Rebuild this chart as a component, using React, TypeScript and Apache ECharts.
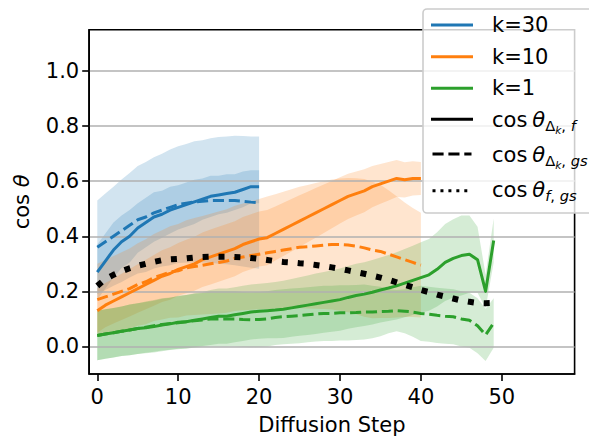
import React, { useEffect, useRef } from 'react';
import * as echarts from 'echarts';

// ---------- data ----------
const xTicks = [0, 10, 20, 30, 40, 50];
const yTicks = [0.0, 0.2, 0.4, 0.6, 0.8, 1.0];

// k = 30 (steps 0..20)
const k30Solid = [0.27, 0.31, 0.35, 0.38, 0.40, 0.43, 0.45, 0.47, 0.48, 0.495, 0.505, 0.515, 0.525, 0.535, 0.545, 0.55, 0.555, 0.56, 0.57, 0.58, 0.58];
const k30Dash = [0.36, 0.38, 0.40, 0.42, 0.44, 0.46, 0.47, 0.485, 0.495, 0.505, 0.515, 0.52, 0.525, 0.527, 0.53, 0.53, 0.53, 0.53, 0.527, 0.524, 0.522];
const k30SolidStd = [0.10, 0.10, 0.10, 0.095, 0.095, 0.09, 0.09, 0.09, 0.085, 0.085, 0.08, 0.08, 0.08, 0.075, 0.075, 0.07, 0.07, 0.065, 0.065, 0.06, 0.06];
const k30DashStd = [0.17, 0.175, 0.18, 0.186, 0.19, 0.195, 0.2, 0.202, 0.205, 0.21, 0.212, 0.215, 0.22, 0.222, 0.226, 0.23, 0.232, 0.235, 0.237, 0.238, 0.24];

// k = 10 (steps 0..40)
const k10Solid = [
  0.13, 0.15, 0.165, 0.18, 0.195, 0.21, 0.225, 0.24, 0.255, 0.265,
  0.28, 0.29, 0.30, 0.315, 0.325, 0.335, 0.345, 0.355, 0.37, 0.38,
  0.39, 0.395, 0.41, 0.425, 0.44, 0.455, 0.47, 0.485, 0.50, 0.515,
  0.53, 0.545, 0.555, 0.565, 0.58, 0.59, 0.60, 0.61, 0.605, 0.61,
  0.61];
const k10Dash = [
  0.17, 0.18, 0.19, 0.20, 0.21, 0.225, 0.235, 0.25, 0.26, 0.27,
  0.275, 0.285, 0.29, 0.295, 0.30, 0.305, 0.31, 0.32, 0.325, 0.33,
  0.335, 0.34, 0.345, 0.35, 0.355, 0.36, 0.362, 0.365, 0.368, 0.37,
  0.37, 0.368, 0.364, 0.358, 0.35, 0.345, 0.335, 0.325, 0.315, 0.305,
  0.295];
const k10SolidStd = [
  0.08, 0.08, 0.082, 0.084, 0.086, 0.088, 0.09, 0.092, 0.094, 0.095,
  0.096, 0.097, 0.098, 0.099, 0.1, 0.1, 0.1, 0.1, 0.1, 0.1,
  0.1, 0.1, 0.098, 0.097, 0.095, 0.094, 0.092, 0.09, 0.088, 0.086,
  0.084, 0.082, 0.08, 0.078, 0.075, 0.072, 0.07, 0.067, 0.064, 0.062,
  0.06];
const k10DashStd = [
  0.13, 0.134, 0.138, 0.142, 0.146, 0.15, 0.154, 0.158, 0.162, 0.166,
  0.17, 0.173, 0.176, 0.179, 0.182, 0.185, 0.188, 0.191, 0.194, 0.197,
  0.2, 0.204, 0.208, 0.212, 0.216, 0.22, 0.224, 0.228, 0.232, 0.236,
  0.24, 0.244, 0.247, 0.25, 0.248, 0.242, 0.232, 0.22, 0.208, 0.198,
  0.19];

// k = 1 (steps 0..49)
const k1Solid = [
  0.04, 0.045, 0.05, 0.055, 0.06, 0.065, 0.068, 0.072, 0.078, 0.082,
  0.088, 0.09, 0.095, 0.1, 0.105, 0.11, 0.11, 0.115, 0.12, 0.125,
  0.128, 0.13, 0.132, 0.135, 0.14, 0.145, 0.15, 0.155, 0.16, 0.165,
  0.17, 0.178, 0.185, 0.19, 0.197, 0.205, 0.212, 0.22, 0.23, 0.24,
  0.25, 0.26, 0.28, 0.305, 0.32, 0.33, 0.335, 0.315, 0.2, 0.385];
const k1Dash = [
  0.04, 0.045, 0.05, 0.055, 0.06, 0.065, 0.07, 0.075, 0.08, 0.083,
  0.086, 0.09, 0.093, 0.096, 0.1, 0.1, 0.1, 0.1, 0.098, 0.097,
  0.098, 0.1, 0.105, 0.108, 0.11, 0.112, 0.115, 0.118, 0.12, 0.12,
  0.122, 0.122, 0.123, 0.125, 0.125, 0.127, 0.128, 0.13, 0.128, 0.125,
  0.12, 0.117, 0.113, 0.11, 0.108, 0.1, 0.095, 0.075, 0.042, 0.085];
const k1SolidStd = [
  0.09, 0.09, 0.09, 0.09, 0.092, 0.092, 0.093, 0.094, 0.095, 0.095,
  0.096, 0.097, 0.098, 0.098, 0.1, 0.1, 0.1, 0.1, 0.1, 0.1,
  0.1, 0.1, 0.102, 0.104, 0.105, 0.106, 0.108, 0.11, 0.11, 0.112,
  0.113, 0.114, 0.115, 0.116, 0.117, 0.118, 0.12, 0.122, 0.124, 0.126,
  0.128, 0.13, 0.135, 0.14, 0.142, 0.145, 0.14, 0.12, 0.06, 0.08];
const k1DashStd = [
  0.09, 0.09, 0.09, 0.09, 0.092, 0.092, 0.093, 0.094, 0.095, 0.095,
  0.096, 0.097, 0.098, 0.098, 0.1, 0.1, 0.1, 0.1, 0.1, 0.1,
  0.1, 0.1, 0.1, 0.1, 0.1, 0.1, 0.1, 0.1, 0.1, 0.1,
  0.1, 0.1, 0.1, 0.1, 0.095, 0.09, 0.08, 0.075, 0.08, 0.09,
  0.1, 0.1, 0.1, 0.1, 0.1, 0.1, 0.1, 0.1, 0.095, 0.09];

// cos theta_{f,gs}
const fgs = [
  0.22, 0.245, 0.26, 0.273, 0.284, 0.293, 0.3, 0.307, 0.313, 0.316,
  0.318, 0.32, 0.323, 0.325, 0.326, 0.326, 0.326, 0.325, 0.324, 0.321,
  0.318, 0.314, 0.31, 0.307, 0.305, 0.302, 0.3, 0.296, 0.292, 0.287,
  0.282, 0.276, 0.27, 0.264, 0.257, 0.25, 0.242, 0.233, 0.224, 0.215,
  0.205, 0.197, 0.188, 0.181, 0.174, 0.167, 0.162, 0.158, 0.157, 0.158];

const legendKs = ['k=30', 'k=10', 'k=1'];

// ---------- styles ----------
const BLUE = '#1f77b4';
const ORANGE = '#ff7f0e';
const GREEN = '#2ca02c';
const FONT = 'DejaVu Sans';
const FS = 21;
const DASH = [11.1, 4.8];

const bandDefs = [
  { mean: k30Solid, std: k30SolidStd, color: BLUE },
  { mean: k30Dash, std: k30DashStd, color: BLUE },
  { mean: k10Solid, std: k10SolidStd, color: ORANGE },
  { mean: k10Dash, std: k10DashStd, color: ORANGE },
  { mean: k1Solid, std: k1SolidStd, color: GREEN },
  { mean: k1Dash, std: k1DashStd, color: GREEN },
];

const pts = (arr: number[]) => arr.map((v, i) => [i, v]);

function lineSeries(data: number[], color: string, type: any, width = 3) {
  return {
    type: 'line',
    data: pts(data),
    showSymbol: false,
    symbol: 'none',
    silent: true,
    z: 3,
    lineStyle: { color, width, type, cap: 'butt', join: 'round' },
  };
}

function mathRich() {
  return {
    m: { fontSize: FS, fontFamily: FONT, color: '#000', verticalAlign: 'top' },
    t: { fontSize: FS, fontFamily: FONT, fontStyle: 'italic', color: '#000', verticalAlign: 'top', padding: [0, 0, 0, 5] },
    s: { fontSize: 14.7, fontFamily: FONT, color: '#000', verticalAlign: 'top', padding: [9, 0, 0, 0] },
    si: { fontSize: 14.7, fontFamily: FONT, fontStyle: 'italic', color: '#000', verticalAlign: 'top', padding: [9, 0, 0, 0] },
    ss: { fontSize: 10.5, fontFamily: FONT, fontStyle: 'italic', color: '#000', verticalAlign: 'top', padding: [15, 0, 0, 0] },
  };
}

function buildLegend() {
  const els: any[] = [];
  els.push({
    type: 'rect',
    shape: { x: 423, y: 9, width: 200, height: 204, r: 4 },
    style: { fill: 'rgba(255,255,255,0.8)', stroke: '#cccccc', lineWidth: 1.6 },
    z: 100,
  });
  const kColors = [BLUE, ORANGE, GREEN];
  const kRows = [25, 56.7, 88.3];
  legendKs.forEach((label, i) => {
    els.push({
      type: 'line',
      shape: { x1: 431, y1: kRows[i], x2: 473, y2: kRows[i] },
      style: { stroke: kColors[i], lineWidth: 3 },
      z: 101,
    });
    els.push({
      type: 'text',
      x: 492,
      y: kRows[i],
      style: { text: label, fontSize: FS, fontFamily: FONT, fill: '#000', verticalAlign: 'middle', align: 'left' },
      z: 101,
    });
  });
  const cRows = [119.3, 154, 190.7];
  const cTop = [109.3, 144.3, 179.3];
  const dashes: any[] = [null, DASH, [3, 4.95]];
  const texts = [
    '{m|cos}{t|θ}{s|Δ}{ss|k}{s|, }{si|f}',
    '{m|cos}{t|θ}{s|Δ}{ss|k}{s|, }{si|gs}',
    '{m|cos}{t|θ}{si|f}{s|, }{si|gs}',
  ];
  cRows.forEach((y, i) => {
    els.push({
      type: 'line',
      shape: { x1: i === 0 ? 431 : 432.5, y1: y, x2: i === 0 ? 473 : 471.5, y2: y },
      style: { stroke: '#000', lineWidth: 3, lineDash: dashes[i] || undefined, lineCap: 'butt' },
      z: 101,
    });
    els.push({
      type: 'text',
      x: 492,
      y: cTop[i],
      style: { text: texts[i], rich: mathRich(), fontSize: FS, fontFamily: FONT, fill: '#000', verticalAlign: 'top', align: 'left' },
      z: 101,
    });
  });
  return els;
}

export default function App() {
  const ref = useRef<HTMLDivElement>(null);
  useEffect(() => {
    if (!ref.current) return;
    const chart = echarts.init(ref.current, undefined, { renderer: 'svg' });
    const option: any = {
      animation: false,
      backgroundColor: '#ffffff',
      grid: {
        left: 89.2, top: 29.7, width: 485.4, height: 346.7,
        show: true, borderColor: '#000', borderWidth: 1.6, backgroundColor: 'transparent',
      },
      xAxis: {
        type: 'value', min: -1, max: 59,
        axisLine: { show: true, onZero: false, lineStyle: { color: '#000', width: 1.6 } },
        axisTick: { show: true, length: 7, inside: false, customValues: xTicks, lineStyle: { color: '#000', width: 1.6 } },
        axisLabel: { customValues: xTicks, fontSize: FS, fontFamily: FONT, color: '#000', margin: 12 },
        splitLine: { show: false },
        name: 'Diffusion Step', nameLocation: 'middle', nameGap: 40,
        nameTextStyle: { fontSize: FS, fontFamily: FONT, color: '#000', verticalAlign: 'top' },
      },
      yAxis: {
        type: 'value', min: -0.1, max: 1.15,
        axisLine: { show: true, onZero: false, lineStyle: { color: '#000', width: 1.6 } },
        axisTick: { show: true, length: 7, inside: false, customValues: yTicks, lineStyle: { color: '#000', width: 1.6 } },
        axisLabel: { customValues: yTicks, fontSize: FS, fontFamily: FONT, color: '#000', margin: 10, formatter: (v: number) => v.toFixed(1) },
        splitLine: { show: true, lineStyle: { color: '#b0b0b0', width: 1.6 } },
        name: '{a|cos }{b|θ}', nameLocation: 'middle', nameGap: 57, nameRotate: 90,
        nameTextStyle: {
          fontSize: FS, fontFamily: FONT, color: '#000',
          rich: {
            a: { fontSize: FS, fontFamily: FONT, color: '#000' },
            b: { fontSize: FS, fontFamily: FONT, fontStyle: 'italic', color: '#000' },
          },
        },
      },
      series: [
        {
          type: 'custom',
          coordinateSystem: 'cartesian2d',
          silent: true,
          z: -1,
          data: bandDefs.map(() => [0, 0]),
          renderItem: (params: any, api: any) => {
            const b = bandDefs[params.dataIndex];
            const upper = b.mean.map((m, j) => api.coord([j, m + b.std[j]]));
            const lower = b.mean.map((m, j) => api.coord([j, m - b.std[j]])).reverse();
            return {
              type: 'polygon',
              shape: { points: upper.concat(lower) },
              style: { fill: b.color, opacity: 0.2 },
            };
          },
        },
        lineSeries(k30Solid, BLUE, 'solid'),
        lineSeries(k30Dash, BLUE, DASH),
        lineSeries(k10Solid, ORANGE, 'solid'),
        lineSeries(k10Dash, ORANGE, DASH),
        lineSeries(k1Solid, GREEN, 'solid'),
        lineSeries(k1Dash, GREEN, DASH),
        lineSeries(fgs, '#000', [6, 9.9], 6),
      ],
      graphic: buildLegend(),
    };
    chart.setOption(option);
    return () => chart.dispose();
  }, []);
  return <div ref={ref} style={{ position: 'fixed', left: 0, top: 0, width: 589, height: 440 }} />;
}
